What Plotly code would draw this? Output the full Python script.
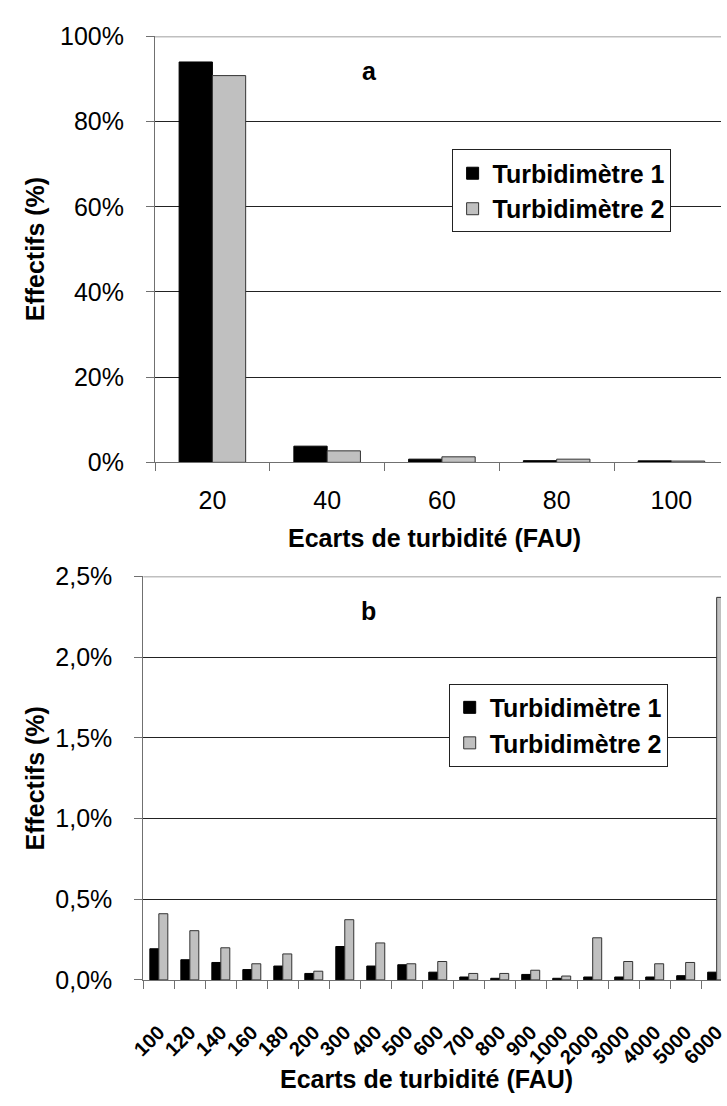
import plotly.graph_objects as go

# Panel a : écarts 20-100 FAU (% des effectifs)
cats_a = ["20", "40", "60", "80", "100"]
turb1_a = [94.0, 3.8, 0.75, 0.4, 0.35]
turb2_a = [90.8, 2.7, 1.3, 0.75, 0.3]

# Panel b : écarts 100-6000 FAU (% des effectifs)
cats_b = ["100", "120", "140", "160", "180", "200", "300", "400", "500", "600",
          "700", "800", "900", "1000", "2000", "3000", "4000", "5000", "6000"]
turb1_b = [0.193, 0.125, 0.108, 0.064, 0.086, 0.040, 0.207, 0.086, 0.094, 0.048,
           0.018, 0.010, 0.034, 0.010, 0.018, 0.018, 0.018, 0.026, 0.048]
turb2_b = [0.410, 0.305, 0.199, 0.100, 0.161, 0.054, 0.373, 0.229, 0.100, 0.114,
           0.040, 0.040, 0.060, 0.024, 0.261, 0.114, 0.100, 0.108, 2.37]

W, H = 727, 1106
FONT = "Liberation Sans, Arial, sans-serif"
BLACK = "#000000"
GREY = "#C0C0C0"
AXIS = "#707070"


def px_x(v):
    return v / W


def px_y(v):
    return 1 - v / H


fig = go.Figure()

fig.add_trace(go.Bar(x=cats_a, y=turb1_a, name="Turbidimètre 1", xaxis="x", yaxis="y",
                     legend="legend",
                     marker=dict(color=BLACK, line=dict(color=BLACK, width=1))))
fig.add_trace(go.Bar(x=cats_a, y=turb2_a, name="Turbidimètre 2", xaxis="x", yaxis="y",
                     legend="legend",
                     marker=dict(color=GREY, line=dict(color="#333333", width=1))))
fig.add_trace(go.Bar(x=cats_b, y=turb1_b, name="Turbidimètre 1", xaxis="x2", yaxis="y2",
                     legend="legend2",
                     marker=dict(color=BLACK, line=dict(color=BLACK, width=1))))
fig.add_trace(go.Bar(x=cats_b, y=turb2_b, name="Turbidimètre 2", xaxis="x2", yaxis="y2",
                     legend="legend2",
                     marker=dict(color=GREY, line=dict(color="#333333", width=1))))

common_x = dict(type="category", showline=True, linecolor=AXIS, linewidth=1,
                ticks="outside", tickson="boundaries", ticklen=8, tickcolor=AXIS,
                showgrid=False, zeroline=False)
common_y = dict(showline=True, linecolor=AXIS, linewidth=1, ticks="outside",
                ticklen=8, tickcolor=AXIS, showgrid=True, gridcolor="#222222",
                gridwidth=1, zeroline=False, tickfont=dict(size=25, color="black"),
                ticklabelstandoff=17)

legend_style = dict(bgcolor="white", bordercolor="#222222", borderwidth=1,
                    font=dict(size=25, color="black", weight="bold"),
                    xanchor="left", yanchor="top", tracegroupgap=0)

fig.update_layout(
    width=W, height=H,
    margin=dict(l=0, r=0, t=0, b=0),
    paper_bgcolor="white", plot_bgcolor="white",
    font=dict(family=FONT, color="black"),
    separators=", ",
    barmode="group", bargap=0.42, bargroupgap=0,
    xaxis=dict(common_x, domain=[px_x(145), 1], anchor="y",
               range=[-0.5, 4.432], tickfont=dict(size=25), ticklabelstandoff=16),
    yaxis=dict(common_y, domain=[px_y(460), px_y(23)], anchor="x",
               range=[0, 100], dtick=20, ticksuffix="%"),
    xaxis2=dict(common_x, domain=[px_x(133), 1], anchor="y2",
                range=[-0.5, 18.14], tickangle=-45,
                tickfont=dict(size=20, weight="bold"), ticklabelstandoff=32),
    yaxis2=dict(common_y, domain=[px_y(991), px_y(577)], anchor="x2",
                range=[0, 2.5], dtick=0.5, tickformat=".1f", ticksuffix="%"),
    legend=dict(legend_style, x=px_x(450), y=px_y(139)),
    legend2=dict(legend_style, x=px_x(447), y=px_y(687)),
    showlegend=True,
)

# top border of each plot area (grey)
fig.add_shape(type="line", xref="paper", yref="y", x0=px_x(145), x1=1, y0=100, y1=100,
              line=dict(color="#808080", width=1.5))
fig.add_shape(type="line", xref="paper", yref="y2", x0=px_x(133), x1=1, y0=2.5, y1=2.5,
              line=dict(color="#808080", width=1.5))

bold = dict(family=FONT, size=25, color="black", weight="bold")
notes = [
    ("a", 366, 58, 0),
    ("b", 365, 612, 0),
    ("Effectifs (%)", 22, 241, -90),
    ("Effectifs (%)", 22, 784, -90),
    ("Ecarts de turbidité (FAU)", 432, 538, 0),
    ("Ecarts de turbidité (FAU)", 424, 1093, 0),
]
for txt, x, y, ang in notes:
    fig.add_annotation(text=txt, x=px_x(x), y=px_y(y), xref="paper", yref="paper",
                       showarrow=False, xanchor="center", yanchor="middle",
                       textangle=ang, font=bold)

# page without body margin so the figure fills the window exactly
fig.write_html("out.html", config={"displayModeBar": False},
               post_script="document.body.style.margin='0';document.body.style.overflow='hidden';")
